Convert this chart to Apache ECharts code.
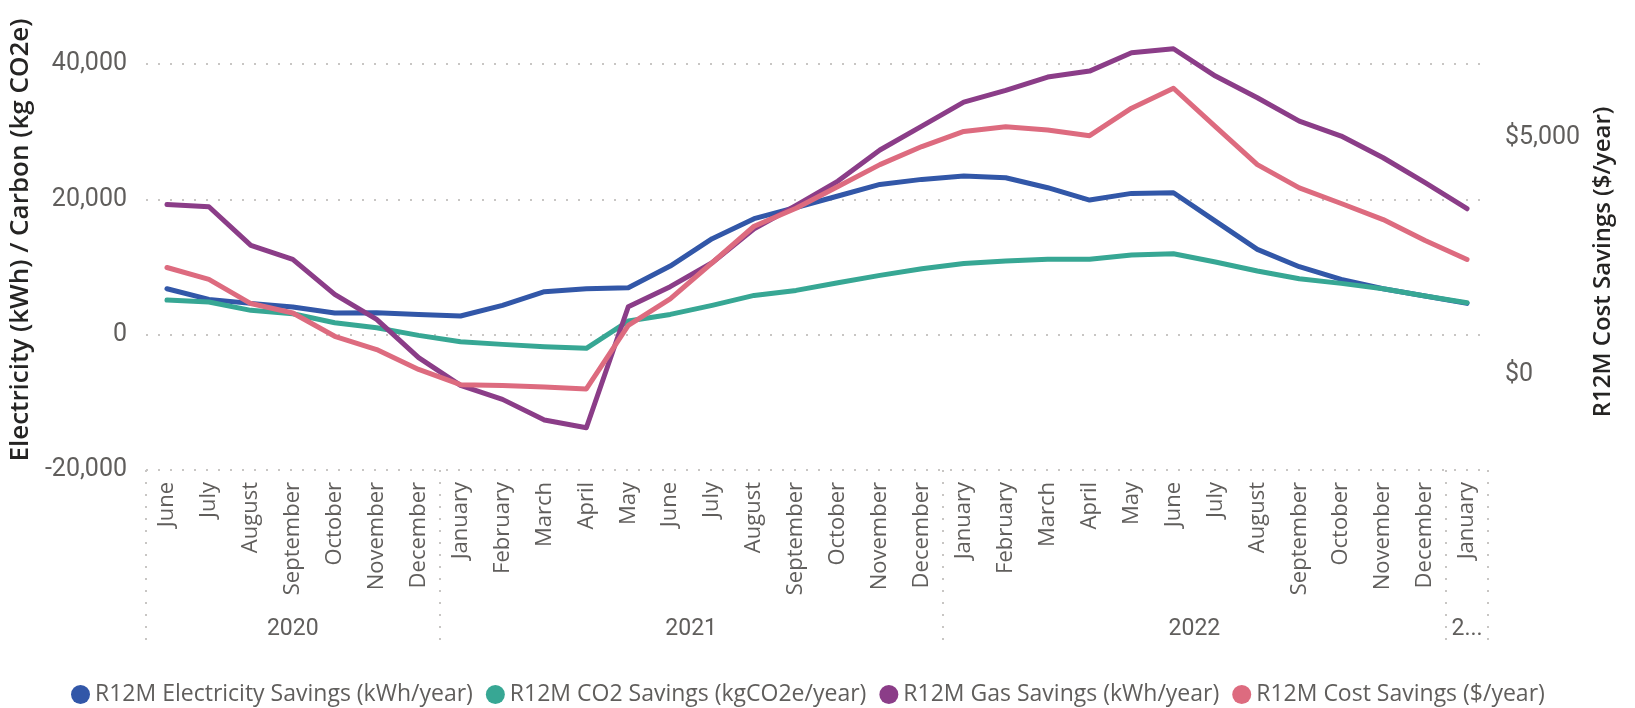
<!DOCTYPE html>
<html>
<head>
<meta charset="utf-8">
<title>R12M Savings</title>
<script src="https://cdn.jsdelivr.net/npm/echarts@6.0.0/dist/echarts.min.js"></script>
<style>
  html, body { margin: 0; padding: 0; background: #fff; }
  #chart { width: 1635px; height: 708px; }
</style>
</head>
<body>
<div id="chart"></div>
<script>
// month axis, Jun 2020 .. Jan 2023
const months = [
  'June', 'July', 'August', 'September', 'October', 'November', 'December',
  'January', 'February', 'March', 'April', 'May', 'June', 'July', 'August', 'September', 'October', 'November', 'December',
  'January', 'February', 'March', 'April', 'May', 'June', 'July', 'August', 'September', 'October', 'November', 'December',
  'January'
]
const yearNames = ['2020', '2021', '2022', '2...']
const yearMonthCounts = [7, 12, 12, 1]

// R12M values
const elecSavings = [
  6800, 5220, 4630, 4090, 3200, 3250, 3000,
  2760, 4340, 6360, 6800, 6950, 10150, 14190, 17150, 18800, 20500, 22220, 22960,
  23450, 23210, 21730, 19900, 20890, 20990, 16800, 12610, 10050, 8180, 6800, 5720,
  4630
]
const co2Savings = [
  5120, 4830, 3600, 3100, 1770, 1040, -100,
  -1040, -1430, -1770, -2020, 2020, 3000, 4340, 5810, 6550, 7690, 8770, 9760,
  10540, 10890, 11140, 11140, 11780, 11970, 10740, 9410, 8280, 7590, 6800, 5720,
  4730
]
const gasSavings = [
  19260, 18920, 13200, 11140, 5960, 2270, -3400,
  -7490, -9560, -12610, -13750, 4140, 7100, 10640, 15670, 19100, 22710, 27300, 30840,
  34390, 36120, 38090, 38970, 41680, 42270, 38230, 35030, 31580, 29370, 26160, 22470,
  18620
]
const costSavings = [
  2270, 2020, 1510, 1310, 820, 540, 120,
  -200, -220, -250, -290, 1050, 1610, 2370, 3140, 3520, 3980, 4440, 4820,
  5140, 5240, 5170, 5050, 5630, 6050, 5240, 4440, 3950, 3620, 3280, 2840,
  2440
]
const costTicks = [0, 5000]

// year group edges / centres on the month index scale
const yearEdges = [-0.5]
const yearCentres = []
yearMonthCounts.forEach(n => {
  const start = yearEdges[yearEdges.length - 1]
  yearCentres.push(start + n / 2)
  yearEdges.push(start + n)
})

const grayText = '#605E5C'
const numFont = "'Roboto', sans-serif"
const textFont = "'Open Sans', sans-serif"
const dotted = { color: '#C8C6C4', width: 2, type: [2, 10] }

const chart = echarts.init(document.getElementById('chart'))

function line(name, data, yIndex) {
  return {
    name: name,
    type: 'line',
    data: data,
    yAxisIndex: yIndex,
    symbol: 'none',
    lineStyle: { width: 5, cap: 'round', join: 'round' }
  }
}

chart.setOption({
  animation: false,
  color: ['#3257A8', '#37A794', '#8B3D88', '#DD6B7F'],
  grid: { left: 142, right: 147, top: 10, bottom: 238 },
  legend: {
    left: 66,
    top: 678,
    icon: 'circle',
    itemWidth: 19,
    itemHeight: 19,
    itemGap: 13,
    textStyle: { color: grayText, fontSize: 23, fontFamily: textFont }
  },
  xAxis: [
    {
      type: 'category',
      data: months,
      boundaryGap: true,
      axisLine: { show: false, onZero: false },
      axisTick: { show: false },
      axisLabel: { rotate: 90, interval: 0, margin: 12, color: grayText, fontSize: 22, fontFamily: textFont }
    },
    {
      type: 'value',
      position: 'bottom',
      min: -0.5,
      max: months.length - 0.5,
      axisLine: { show: false, onZero: false },
      splitLine: { show: false },
      axisTick: { show: true, inside: false, customValues: yearEdges, length: 180, lineStyle: dotted },
      axisLabel: {
        customValues: yearCentres,
        margin: 148,
        color: grayText,
        fontSize: 23,
        fontFamily: numFont,
        formatter: v => yearNames[yearCentres.indexOf(v)]
      }
    }
  ],
  yAxis: [
    {
      type: 'value',
      min: -20000,
      max: 48000,
      interval: 20000,
      name: 'Electricity (kWh) / Carbon (kg CO2e)',
      nameLocation: 'middle',
      nameRotate: 90,
      nameGap: 112,
      nameTextStyle: { color: '#252423', fontSize: 26, fontWeight: 600, fontFamily: textFont },
      axisLine: { show: false },
      axisTick: { show: false },
      axisLabel: {
        showMaxLabel: false,
        margin: 19,
        color: grayText,
        fontSize: 25,
        fontFamily: numFont,
        formatter: v => v.toLocaleString('en-US')
      },
      splitLine: { show: true, showMaxLine: false, lineStyle: dotted }
    },
    {
      type: 'value',
      position: 'right',
      min: -2000,
      max: 7700,
      name: 'R12M Cost Savings ($/year)',
      nameLocation: 'middle',
      nameRotate: 90,
      nameGap: 99,
      nameTextStyle: { color: '#252423', fontSize: 24, fontWeight: 600, fontFamily: textFont, padding: [0, 44, 0, 0] },
      axisLine: { show: false },
      axisTick: { show: false },
      splitLine: { show: false },
      axisLabel: {
        customValues: costTicks,
        margin: 17,
        color: grayText,
        fontSize: 25,
        fontFamily: numFont,
        formatter: v => '$' + v.toLocaleString('en-US')
      }
    }
  ],
  series: [
    line('R12M Electricity Savings (kWh/year)', elecSavings, 0),
    line('R12M CO2 Savings (kgCO2e/year)', co2Savings, 0),
    line('R12M Gas Savings (kWh/year)', gasSavings, 0),
    line('R12M Cost Savings ($/year)', costSavings, 1)
  ]
})
</script>
</body>
</html>
